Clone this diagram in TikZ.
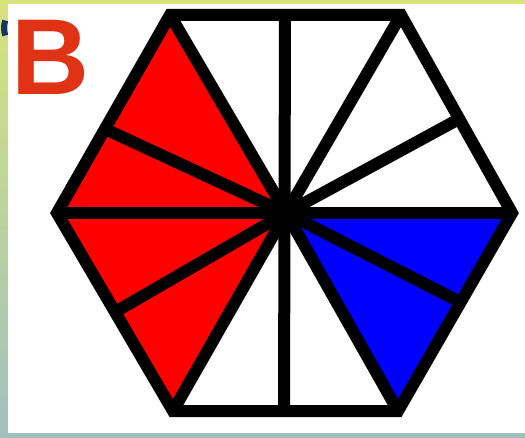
\documentclass[tikz,border=0pt]{standalone}
\usepackage{fontspec}
\setmainfont{Liberation Sans}
\usepackage{tikz}

\definecolor{frametop}{RGB}{214,228,124}
\definecolor{framebot}{RGB}{160,192,192}
\definecolor{ringblue}{RGB}{22,52,100}
\definecolor{letterred}{RGB}{224,50,20}

\begin{document}
\begin{tikzpicture}[x=1pt,y=-1pt,
    spoke/.style={line width=12pt,line join=miter},
    part/.style={draw=none}]
  \useasboundingbox (0,0) rectangle (525,438);
  % frame behind the panel
  \shade[top color=frametop,bottom color=framebot] (0,0) rectangle (525,438);
  \draw[ringblue,line width=6pt] (26,28) ++(160:22) arc[start angle=160,end angle=200,radius=22];
  \draw[ringblue,line width=5pt] (22,26) ++(70:24) arc[start angle=70,end angle=110,radius=24];
  \fill[white] (8,4) rectangle (525,433);
  % hexagon corners and edge points
  \coordinate (C) at (286,213);
  \coordinate (TL) at (170,15);
  \coordinate (TM) at (285,15);
  \coordinate (TR) at (401,15);
  \coordinate (R) at (512,213);
  \coordinate (BR) at (398,411);
  \coordinate (BM) at (284,411);
  \coordinate (BL) at (173,411);
  \coordinate (L) at (57,213);
  \coordinate (LU) at (105,129);
  \coordinate (LD) at (115,312);
  \coordinate (RU) at (459,119);
  \coordinate (RD) at (460,302);
  % coloured parts
  \fill[red,part] (C) -- (TL) -- (L) -- (BL) -- cycle;
  \fill[blue,part] (C) -- (R) -- (BR) -- cycle;
  % spokes
  \draw[spoke] (TM) -- (BM);
  \draw[spoke] (L) -- (R);
  \foreach \p in {TL,TR,LU,LD,RU,RD,BL,BR}
    \draw[spoke] (C) -- (\p);
  \draw[spoke] (TL) -- (TR) -- (R) -- (BR) -- (BL) -- (L) -- cycle;
  \node[letterred,font=\bfseries\fontsize{108}{108}\selectfont,anchor=north west,inner sep=0pt] (lbl) at (11,20) {B};
\end{tikzpicture}
\end{document}
